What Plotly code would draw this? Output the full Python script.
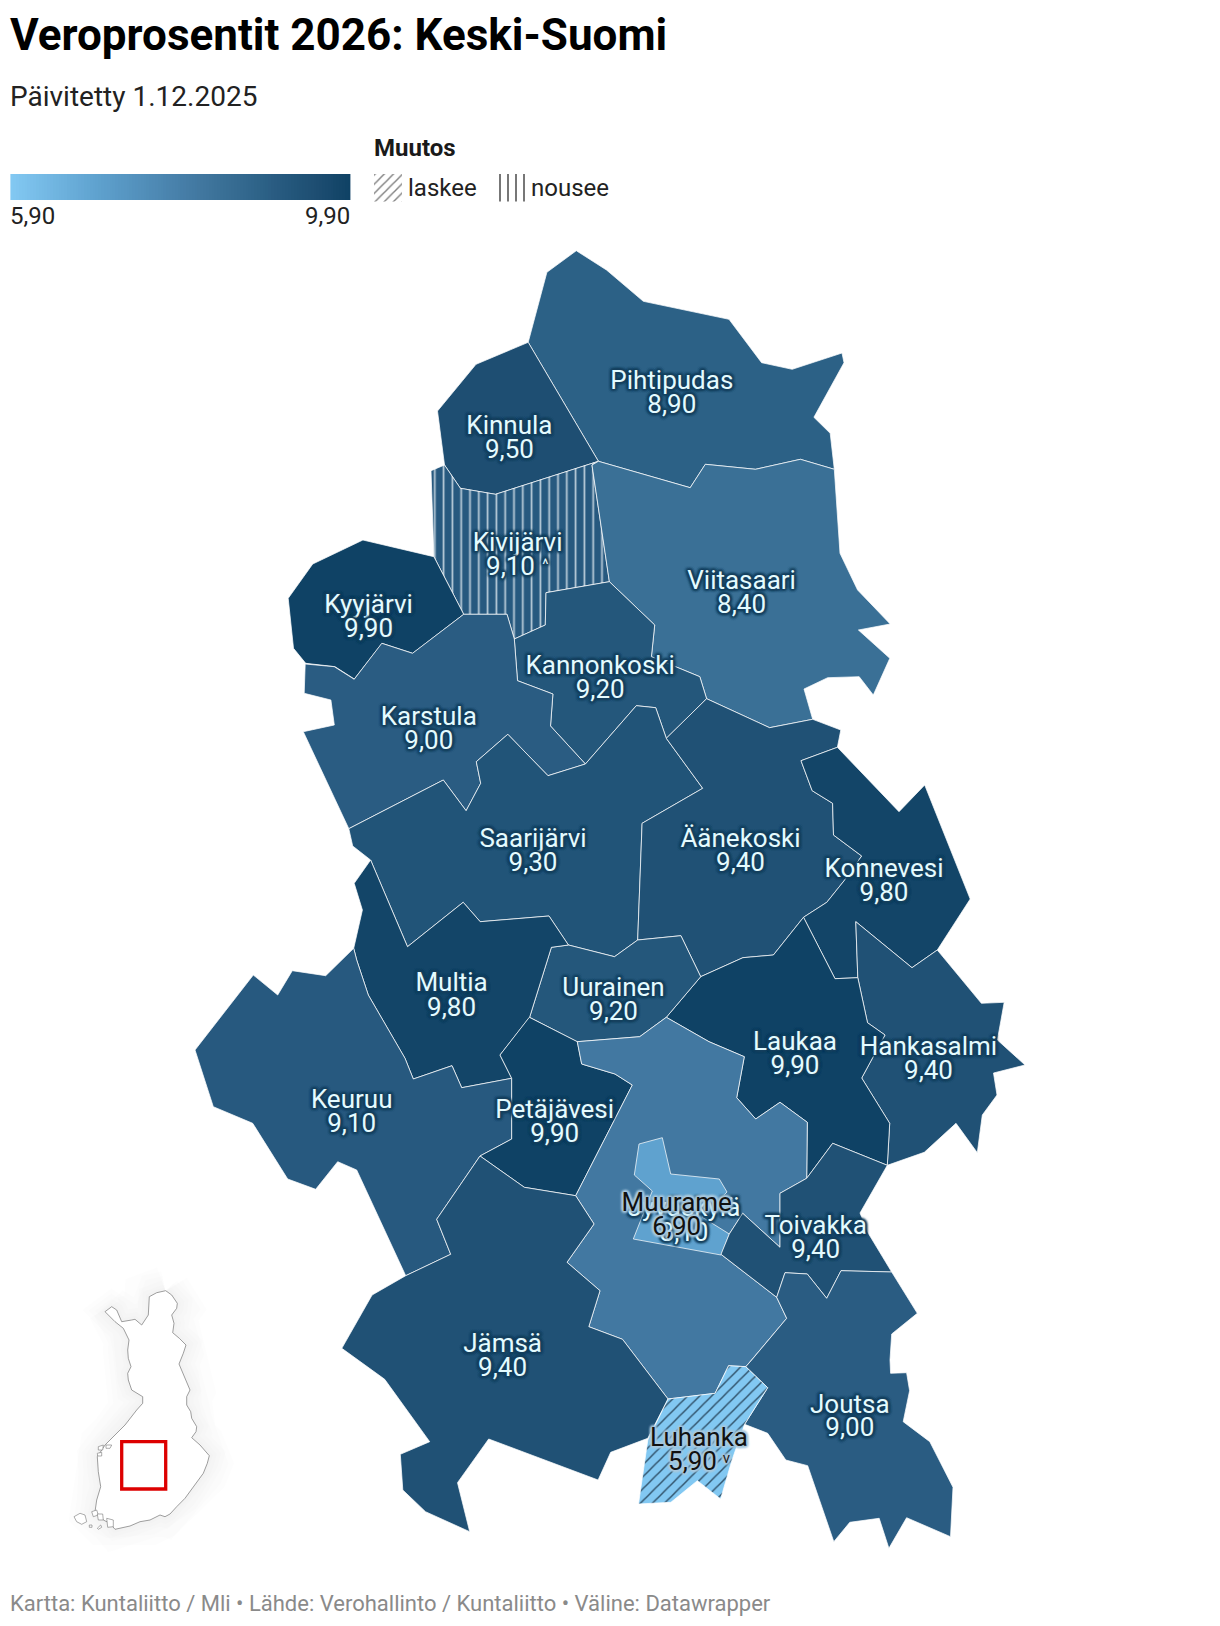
import numpy as np
import plotly.graph_objects as go
from plotly.colors import sample_colorscale

TITLE = "Veroprosentit 2026: Keski-Suomi"
SUBTITLE = "Päivitetty 1.12.2025"
FOOTER = "Kartta: Kuntaliitto / Mli • Lähde: Verohallinto / Kuntaliitto • Väline: Datawrapper"
LEGEND_LOW = "5,90"
LEGEND_HIGH = "9,90"

# colour scale
SCALE_VALUES = [5.9, 6.9, 8.1, 8.4, 8.9, 9.0, 9.3, 9.5, 9.9]
SCALE_COLORS = ["#82c8f2", "#5fa2cf", "#4278a1", "#3a7096", "#2c6186", "#2a5c82", "#215478", "#1e4e72", "#0f4265"]

NAMES = ["Pihtipudas", "Kinnula", "Kivijärvi", "Viitasaari", "Kannonkoski", "Kyyjärvi", "Karstula", "Saarijärvi",
         "Äänekoski", "Konnevesi", "Hankasalmi", "Laukaa", "Uurainen", "Multia", "Keuruu", "Petäjävesi",
         "Jyväskylä", "Muurame", "Toivakka", "Joutsa", "Jämsä", "Luhanka"]
RATES = [8.9, 9.5, 9.1, 8.4, 9.2, 9.9, 9.0, 9.3, 9.4, 9.8, 9.4, 9.9, 9.2, 9.8, 9.1, 9.9, 8.1, 6.9, 9.4, 9.0, 9.4, 5.9]
CHANGE = {"Kivijärvi": "up", "Luhanka": "down"}

# outlines, in map units
PIHTIPUDAS = [(528.2,342.3),(546.9,272.3),(576.3,250.7),(606.5,270),(643.3,301.3),(729,319.3),(761.6,362.7),(792.2,369.3),(842,353),(844,362.7),(813.9,417.3),(830.2,433.3),(834.3,469.3),(800.4,459.3),(755.5,469.3),(705.3,464.3),(690.2,487.7),(598.4,461.3)]
KINNULA = [(528.2,342.3),(476,364.3),(437.5,411),(444.5,465),(460.4,488.3),(495.5,494.3),(598.4,461.3)]
KIVIJARVI = [(431,470.7),(444.5,465),(460.4,488.3),(495.5,494.3),(598.4,461.3),(592,465),(609.4,581.7),(546,592.7),(545.3,625),(514.3,639),(507,614.3),(463.7,614.3),(433.9,556.7)]
VIITASAARI = [(598.4,461.3),(690.2,487.7),(705.3,464.3),(755.5,469.3),(800.4,459.3),(834.3,469.3),(840,553.3),(857.6,590),(890.2,624),(858.4,630),(889.8,658.3),(873.3,695),(859.2,676.7),(827.7,677.7),(804,689),(812.7,719.3),(769.6,727.7),(706.6,698.7),(699.8,676.7),(651.4,656.7),(654.7,625),(609.4,581.7),(592,465)]
KANNONKOSKI = [(609.4,581.7),(654.7,625),(651.4,656.7),(699.8,676.7),(706.6,698.7),(666.3,738.3),(655.7,707.7),(636.3,705.7),(585.4,764),(550.5,726),(552.9,694),(517.5,680.7),(514.3,639),(545.3,625),(546,592.7)]
KYYJARVI = [(362.9,540),(433.9,556.7),(463.7,614.3),(412.7,653.3),(382,643.3),(354.3,679),(335,666.7),(305.7,663.3),(293.5,648.3),(288.2,598.3),(312.7,564)]
KARSTULA = [(305.2,664),(334.3,666.7),(354.2,679.3),(381.8,643.3),(412.5,653.3),(463.7,614.3),(507,614.3),(514.3,639),(517.5,680.7),(552.9,694),(550.5,726),(585.4,764),(548,775.7),(507.8,734.3),(476.3,761.7),(480.7,783.3),(466.1,810.7),(443.3,780),(348.8,828.7),(303.3,731.7),(334.3,725),(330.9,700),(304.2,693.3)]
SAARIJARVI = [(348.8,828.7),(443.3,780),(466.1,810.7),(480.7,783.3),(476.3,761.7),(507.8,734.3),(548,775.7),(585.4,764),(636.3,705.7),(655.7,707.7),(666.3,738.3),(702.7,788.3),(642.1,823.3),(637.7,940),(614.5,956.7),(568.4,945),(549,916),(480.2,921.7),(463.2,902.3),(407.5,946.7),(370.6,860),(352.7,846)]
AANEKOSKI = [(706.6,698.7),(769.6,727.7),(812.7,719.3),(840.8,730),(837.4,747.3),(801,760.7),(812.2,790.7),(832.6,803.3),(833.5,835),(861.7,856),(844.7,880),(826.8,902.3),(803.5,917.3),(773.4,955),(742.9,957.7),(700.7,976.7),(680.9,935.7),(637.7,940),(642.1,823.3),(702.7,788.3),(666.3,738.3)]
KONNEVESI = [(837.4,747.3),(899,811.7),(924.7,785),(970.2,899),(937.3,950),(912,967.7),(855.8,921.7),(857.8,977.7),(835,978.7),(803.5,917.3),(826.8,902.3),(844.7,880),(861.7,856),(833.5,835),(832.6,803.3),(812.2,790.7),(801,760.7)]
HANKASALMI = [(855.8,921.7),(912,967.7),(937.3,950),(981.4,1003.3),(1004.2,1002.3),(997.4,1040),(1025,1065),(993.5,1073),(997,1095),(982.3,1115),(977.3,1152.7),(956,1123.3),(924.3,1152.3),(887.3,1165.3),(889.7,1123.3),(861.7,1078),(885,1035),(867.5,1022.7),(857.8,977.7)]
LAUKAA = [(803.5,917.3),(835,978.7),(857.8,977.7),(867.5,1022.7),(885,1035),(861.7,1078),(889.7,1123.3),(887.3,1165.3),(832.7,1143.3),(806.7,1178.3),(807.3,1122.3),(780,1102.3),(755.7,1119),(736.7,1097.7),(744.3,1056.7),(709,1041.7),(666.3,1017.3),(700.7,976.7),(742.9,957.7),(773.4,955)]
UURAINEN = [(568.4,945),(614.5,956.7),(637.7,940),(680.9,935.7),(700.7,976.7),(666.3,1017.3),(639.7,1036.7),(577.1,1041.7),(529.6,1017.3),(551.4,947.3)]
MULTIA = [(370.6,860),(407.5,946.7),(463.2,902.3),(480.2,921.7),(549,916),(568.4,945),(551.4,947.3),(529.6,1017.3),(500,1055),(511.7,1078.3),(461.7,1087.7),(452,1065.7),(413.3,1079),(405,1058.3),(368.3,995),(356.7,960),(353.7,948.3),(362.4,910),(354.2,883.3)]
KEURUU = [(253.3,975),(277.7,995),(292.3,970.7),(325.7,975.7),(353.7,948.3),(356.7,960),(368.3,995),(405,1058.3),(413.3,1079),(452,1065.7),(461.7,1087.7),(511.7,1078.3),(511.7,1139),(480,1156),(436.7,1219.3),(450.7,1254.3),(405.7,1275.7),(356.7,1170),(337.7,1161.7),(315.7,1189.3),(287.7,1179),(252.7,1123.3),(213.3,1106.7),(195,1050)]
PETAJAVESI = [(529.3,1017.3),(577.3,1041.7),(581.7,1064),(615,1074),(632.3,1085),(575.7,1195.7),(524.3,1187.3),(480,1156),(511.7,1139),(511.7,1078.3),(500,1055)]
JYVASKYLA = [(577.3,1041.7),(639.7,1036.7),(666.3,1017.3),(709,1041.7),(744.3,1056.7),(736.7,1097.7),(755.7,1119),(780,1102.3),(807.3,1122.3),(806.7,1178.3),(780,1193.3),(780,1247.3),(742.7,1213.3),(729.3,1234),(721,1254.3),(776.7,1297.3),(786.7,1318.3),(751.7,1360),(745.8,1366.7),(728.6,1365.7),(715.1,1393.3),(668,1399),(622.5,1339.3),(588.8,1326.7),(600,1290.7),(567,1262.3),(594,1224),(575.7,1195.7),(632.3,1085),(615,1074),(581.7,1064)]
MUURAME = [(639,1144),(662.3,1137.7),(670.7,1174),(719.3,1179),(727,1192),(702,1217),(729.3,1234),(721,1255),(633.3,1239),(652.3,1191),(634.3,1175)]
TOIVAKKA = [(887.3,1165.3),(832.7,1143.3),(806.7,1178.3),(780,1193.3),(780,1247.3),(742.7,1213.3),(729.3,1234),(721,1254.3),(776.7,1297.3),(785,1272.7),(807.3,1274),(826.7,1298.3),(841,1270.7),(891.7,1272),(868.3,1233.3),(860,1213)]
JOUTSA = [(776.7,1297.3),(785,1272.7),(807.3,1274),(826.7,1298.3),(841,1270.7),(891.7,1272),(917.3,1313.3),(891.7,1334),(890,1360),(890.6,1373.3),(906.6,1372.7),(909.6,1390.7),(903.2,1421.7),(929.8,1441.7),(953,1487.3),(950.5,1536.7),(906.6,1517.7),(888.9,1548.3),(879.2,1518.3),(849.8,1522.3),(833.8,1541.7),(807.7,1465.7),(785.8,1460),(767.7,1433.3),(744.6,1424.3),(767.7,1387.7),(745.8,1366.7),(751.7,1360),(786.7,1318.3)]
JAMSA = [(668,1399),(647.8,1438.3),(610.7,1452.3),(598.1,1480),(488.7,1439),(457.5,1482.7),(469.7,1531.7),(425.5,1511.7),(402.8,1490),(400.3,1454.3),(429.7,1441.7),(384.7,1379.3),(341.8,1348.3),(372.1,1295),(405.7,1275.7),(450.7,1254.3),(436.7,1219.3),(480,1156),(524.3,1187.3),(575.7,1195.7),(594,1224),(567,1262.3),(600,1290.7),(588.8,1326.7),(622.5,1339.3)]
LUHANKA = [(745.8,1366.7),(767.7,1387.7),(744.6,1424.3),(732,1460),(720.6,1499),(697.4,1480.7),(670.9,1502.3),(638.5,1504),(647.8,1440),(668,1399),(715.1,1393.3),(728.6,1365.7)]
SHAPES = [PIHTIPUDAS, KINNULA, KIVIJARVI, VIITASAARI, KANNONKOSKI, KYYJARVI, KARSTULA, SAARIJARVI, AANEKOSKI,
          KONNEVESI, HANKASALMI, LAUKAA, UURAINEN, MULTIA, KEURUU, PETAJAVESI, JYVASKYLA, MUURAME, TOIVAKKA,
          JOUTSA, JAMSA, LUHANKA]

NAME_X = [671.8,509.4,517.6,741.6,600.2,368.6,428.8,533,740.5,884,928.5,795,613.5,451.6,351.7,554.7,684,676.7,815.7,849.8,502.6,699]
NAME_Y = [380,425,542.3,580,665,604.3,716,838.3,838,868.3,1046,1041,986.7,982.3,1099.3,1109,1207,1201.7,1225,1404,1343.3,1437.3]
VALUE_X = [671.8,509.4,510.5,741.6,600.2,368.6,428.8,533,740.5,884,928.5,795,613.5,451.6,351.7,554.7,684,676.7,815.7,849.8,502.6,692.5]
VALUE_Y = [404,449.3,566,604,689.3,628.3,740,862.3,862,892.3,1070,1065,1010.7,1006.7,1123.3,1132.7,1231.5,1225.7,1249,1427.3,1367.3,1461]
CHANGE_MARKS = [("Kivijärvi", "^", 545.5, 565), ("Luhanka", "v", 726.5, 1459)]

FINLAND = [(165.7,1290.7),(171.7,1295),(177.3,1303.3),(176.7,1308.3),(171.7,1315),(174,1323.3),(172.7,1332.7),(179.3,1338.3),(186,1345),(183.3,1353.3),(179,1364),(184,1375),(190,1390),(186.7,1396.7),(186.7,1405),(190.7,1411.7),(191.7,1418.3),(196.7,1426.7),(196,1431.7),(191.7,1437.7),(200,1445),(209.3,1455.7),(207.3,1463.3),(203.3,1473.3),(193.3,1486.7),(185,1498.3),(176.7,1506.7),(170,1514),(165,1516.7),(160,1515),(150,1520),(140,1521.7),(130,1526),(115,1529.3),(110,1523.3),(103.3,1520),(95,1511.7),(96.7,1500),(100.7,1486.7),(98.3,1471.7),(97.3,1456.7),(105,1445),(115,1435),(125,1425),(136.7,1410),(142.7,1403.3),(142.7,1396.7),(131.7,1390),(128.3,1380),(127.7,1373.3),(131,1366.7),(128.3,1358.3),(127.7,1350),(129,1340),(123.3,1328.3),(115,1321.7),(105,1311.7),(111.7,1306.7),(116.7,1310),(121.7,1321.7),(131.7,1320),(135,1319.3),(141.7,1325),(148.3,1315),(149.3,1296.7),(156.7,1292.7)]
ISLES = [
    [(74,1516.7),(80,1513.3),(85,1515),(86.7,1521.7),(81.7,1524.3),(76.7,1521.7)],
    [(98.3,1446.7),(103.3,1445),(102.7,1450),(98.3,1450)],
    [(106,1445),(111.7,1445),(110,1448.3),(106,1448.3)],
    [(97.3,1453.3),(101.7,1452.3),(101.7,1456),(97.7,1456)],
    [(91.7,1511.7),(96.7,1510),(98.3,1515),(93.3,1516.7)],
    [(97.3,1514),(102.7,1514),(103.3,1520),(98.3,1520)],
    [(106.7,1518.3),(113.3,1520),(113.3,1526.7),(107.7,1527.3)],
    [(97.3,1528.3),(100.7,1525),(101.7,1527.3),(98.3,1529.3)],
    [(89.3,1525),(92,1525),(92,1527.3),(89.3,1527.3)],
]
LOCATOR_X = [121.7, 165.7]
LOCATOR_Y = [1441.7, 1489]
LEGEND_BAR_X = [10.4, 350]
LEGEND_BAR_Y = [174, 200]
SWATCH_DOWN = [(374,174),(402,174),(402,201.5),(374,201.5)]
SWATCH_UP = [(499,174),(525,174),(525,201.5),(499,201.5)]

FONT = "Roboto"
lo, hi = SCALE_VALUES[0], SCALE_VALUES[-1]
colorscale = [[(v - lo) / (hi - lo), c] for v, c in zip(SCALE_VALUES, SCALE_COLORS)]
def rate_color(v):
    return sample_colorscale(colorscale, [(v - lo) / (hi - lo)])[0]
def poly(points):
    xs, ys = zip(*points)
    return list(xs) + [xs[0]], list(ys) + [ys[0]]
def fi(v):
    return f"{v:.2f}".replace(".", ",")

fig = go.Figure()

# inset map with its soft glow
fx, fy = poly(FINLAND)
for w in [50, 40, 30, 22, 14, 7]:
    fig.add_trace(go.Scatter(x=fx, y=fy, mode="lines", line=dict(color="rgba(0,0,0,0.008)", width=w), hoverinfo="skip"))
fig.add_trace(go.Scatter(x=fx, y=fy, mode="lines", fill="toself", fillcolor="white", line=dict(color="#757575", width=0.7), hoverinfo="skip"))
for isle in ISLES:
    ix, iy = poly(isle)
    fig.add_trace(go.Scatter(x=ix, y=iy, mode="lines", fill="toself", fillcolor="white", line=dict(color="#757575", width=0.6), hoverinfo="skip"))

# municipalities
for name, rate, pts in zip(NAMES, RATES, SHAPES):
    x, y = poly(pts)
    color = rate_color(rate)
    kw = dict(fillcolor=color)
    if CHANGE.get(name) == "up":
        kw["fillpattern"] = dict(shape="|", fgcolor="#b8cbd9", bgcolor=color, size=8.8, solidity=0.2, fillmode="replace")
    if CHANGE.get(name) == "down":
        kw["fillpattern"] = dict(shape="/", fgcolor="#2f5068", bgcolor=color, size=8.5, solidity=0.17, fillmode="replace")
    fig.add_trace(go.Scatter(x=x, y=y, mode="lines", fill="toself", line=dict(color="rgba(255,255,255,0.9)", width=0.8), hoverinfo="skip", name=name, **kw))

# labels
DH = "#17405e"
DARK_HALO = ", ".join(f"{a}px {b}px 3px {DH}" for a, b in [(0,0),(0,0),(0,0),(1,1),(-1,-1),(1,-1),(-1,1),(1,1),(-1,-1),(1,-1),(-1,1)])
LH = "#a9c9de"
LIGHT_HALO = ", ".join(f"{a}px {b}px 3px {LH}" for a, b in [(0,0),(0,0),(0,0),(1,1),(-1,-1),(1,-1),(-1,1),(1,1),(-1,-1),(1,-1),(-1,1)])
LABEL_SHIFT = 2.5
order = [i for i in range(len(NAMES)) if NAMES[i] != "Muurame"] + [NAMES.index("Muurame")]
for i in order:
    light_fill = RATES[i] < 7.5
    fig.add_trace(go.Scatter(
        x=[NAME_X[i], VALUE_X[i]], y=[NAME_Y[i] + LABEL_SHIFT, VALUE_Y[i] + LABEL_SHIFT], mode="text",
        text=[NAMES[i], fi(RATES[i])], textposition="middle center", cliponaxis=False, hoverinfo="skip",
        textfont=dict(family=FONT, size=26, color="#111111" if light_fill else "#e4fbff",
                      shadow=LIGHT_HALO if light_fill else DARK_HALO)))
for name, mark, mx, my in CHANGE_MARKS:
    light_fill = name == "Luhanka"
    fig.add_trace(go.Scatter(x=[mx], y=[my], mode="text", text=[mark], textposition="middle center", hoverinfo="skip",
                             textfont=dict(family=FONT, size=15, color="#222222" if light_fill else "#e4fbff",
                                           shadow=LIGHT_HALO if light_fill else DARK_HALO)))

# colour legend
N_BAR = 120
half_cell = (LEGEND_BAR_X[1] - LEGEND_BAR_X[0]) / N_BAR / 2
grad = np.linspace(lo, hi, N_BAR)
fig.add_trace(go.Heatmap(z=[grad.tolist()], x=np.linspace(LEGEND_BAR_X[0] + half_cell, LEGEND_BAR_X[1] - half_cell, N_BAR).tolist(),
                         y0=sum(LEGEND_BAR_Y) / 2, dy=LEGEND_BAR_Y[1] - LEGEND_BAR_Y[0],
                         colorscale=colorscale, zmin=lo, zmax=hi, showscale=False, hoverinfo="skip"))
# change legend
sx, sy = poly(SWATCH_DOWN)
fig.add_trace(go.Scatter(x=sx, y=sy, mode="lines", fill="toself", line=dict(width=0), hoverinfo="skip",
                         fillcolor="white", fillpattern=dict(shape="/", fgcolor="#808080", bgcolor="white", size=6.5, solidity=0.22, fillmode="replace")))
sx, sy = poly(SWATCH_UP)
fig.add_trace(go.Scatter(x=sx, y=sy, mode="lines", fill="toself", line=dict(width=0), hoverinfo="skip",
                         fillcolor="white", fillpattern=dict(shape="|", fgcolor="#777777", bgcolor="white", size=8, solidity=0.25, fillmode="replace")))

def note(x, y, text, size, color="#111111", weight=400, anchor="left"):
    fig.add_annotation(x=x, y=y, xref="x", yref="y", text=text, showarrow=False, xanchor=anchor, yanchor="middle",
                       align=anchor, borderpad=0, font=dict(family=FONT, size=size, color=color, weight=weight))

note(9, 35, TITLE, 44, "#000000", 700)
note(9, 96, SUBTITLE, 28, "#222222")
note(372.5, 148, "Muutos", 24, "#1a1a1a", 700)
note(406.5, 187.5, "laskee", 24, "#222222")
note(529.5, 187.5, "nousee", 24, "#222222")
note(9, 215.5, LEGEND_LOW, 24, "#222222")
note(350.5, 215.5, LEGEND_HIGH, 24, "#222222", anchor="right")
note(9, 1603, FOOTER, 22, "#8a8a8a")

fig.add_shape(type="rect", xref="x", yref="y", x0=LOCATOR_X[0], x1=LOCATOR_X[1], y0=LOCATOR_Y[0], y1=LOCATOR_Y[1],
              line=dict(color="#dd0000", width=3.3))

fig.update_layout(width=1204, height=1610, margin=dict(l=0, r=0, t=0, b=0), showlegend=False,
                  paper_bgcolor="white", plot_bgcolor="white",
                  xaxis=dict(range=[8, 1212], visible=False, fixedrange=True),
                  yaxis=dict(range=[1618, 8], visible=False, fixedrange=True))
fig.write_html("out.html", config={"displayModeBar": False})
